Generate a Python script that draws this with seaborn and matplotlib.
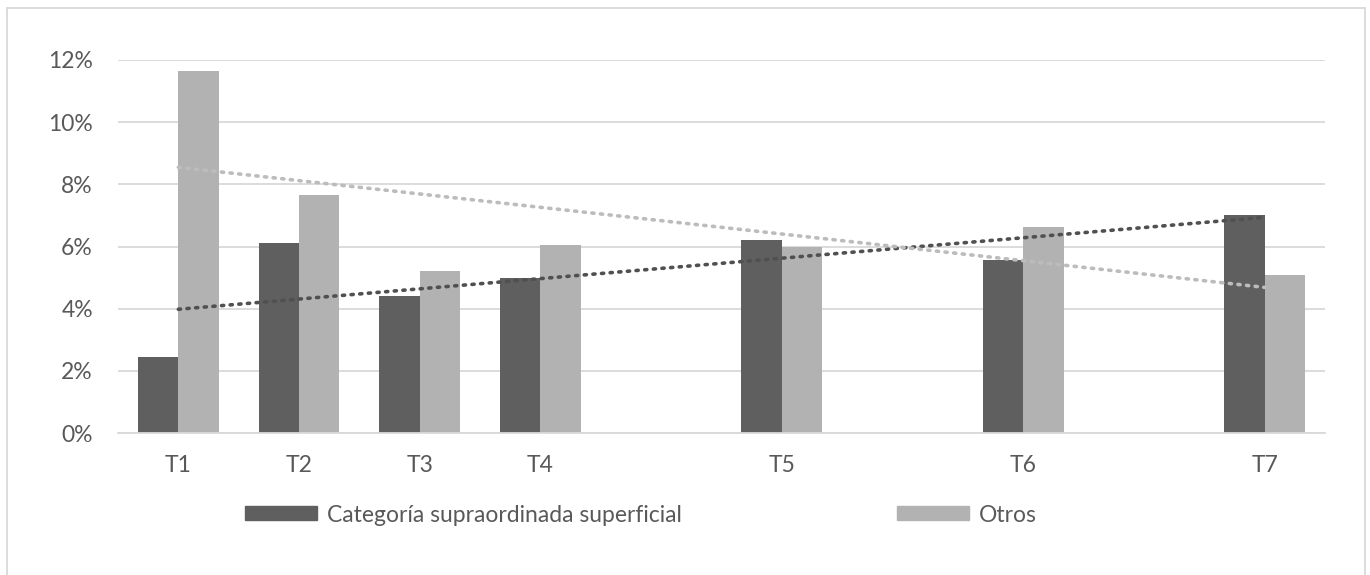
import numpy as np
import pandas as pd
import matplotlib
matplotlib.use("Agg")
import matplotlib.pyplot as plt
import seaborn as sns
from matplotlib.lines import Line2D

# slots on the category axis (blank slots have no bars)
slots = ["T1", "T2", "T3", "T4", "_a", "T5", "_b", "T6", "_c", "T7"]
slot_labels = ["T1", "T2", "T3", "T4", "", "T5", "", "T6", "", "T7"]
tiempos = ["T1", "T2", "T3", "T4", "T5", "T6", "T7"]
series = ["Categoría supraordinada superficial", "Otros"]
cat_sup = [0.0245, 0.061, 0.044, 0.050, 0.0622, 0.0555, 0.0702]
otros = [0.1165, 0.0765, 0.052, 0.0605, 0.060, 0.0662, 0.0508]

colors = ["#5f5f5f", "#b2b2b2"]
trend_colors = ["#505050", "#bcbcbc"]

df = pd.DataFrame({
    "t": tiempos * 2,
    "serie": [series[0]] * len(tiempos) + [series[1]] * len(tiempos),
    "valor": cat_sup + otros,
})

sns.set_style("white")
plt.rcParams["font.family"] = ["Lato", "DejaVu Sans"]
fs = 16.5

fig = plt.figure(figsize=(13.7, 5.75), dpi=100)
ax = fig.add_axes([118 / 1370, 1 - 433 / 575, (1325 - 118) / 1370, (433 - 60) / 575])

sns.barplot(data=df, x="t", y="valor", hue="serie", order=slots,
            hue_order=series, palette=colors, width=0.67, saturation=1,
            errorbar=None, ax=ax, legend=False, linewidth=0, zorder=2)

# linear trendlines (Excel style) over slot positions
xpos = np.array([slots.index(t) for t in tiempos])
for vals, c in zip([cat_sup, otros], trend_colors):
    m, b = np.polyfit(xpos + 1, vals, 1)
    xs = np.array([0, len(slots) - 1])
    ax.plot(xs, m * (xs + 1) + b, color=c, lw=2.6, ls=(0, (0.6, 1.8)),
            dash_capstyle="round", zorder=3)

ax.set_ylim(0, 0.12)
ax.set_xlim(-0.5, len(slots) - 0.5)
yt = np.arange(0, 0.121, 0.02)
ax.set_yticks(yt)
ax.set_yticklabels([f"{int(round(v * 100))}%" for v in yt])
ax.yaxis.grid(True, color="#d9d9d9", lw=1.3, zorder=0)
ax.set_axisbelow(True)
ax.set_xticks(range(len(slots)))
ax.set_xticklabels(slot_labels)
ax.set_xticks(np.arange(-0.5, len(slots)), minor=True)
ax.tick_params(axis="x", which="major", length=0, pad=16, labelsize=fs, labelcolor="#595959")
ax.tick_params(axis="x", which="minor", length=7, width=1.3, color="#d9d9d9")
ax.tick_params(axis="y", length=0, pad=18, labelsize=fs, labelcolor="#595959")
ax.set_xlabel("")
ax.set_ylabel("")
for s in ["left", "right", "top"]:
    ax.spines[s].set_visible(False)
ax.spines["bottom"].set_color("#d9d9d9")
ax.spines["bottom"].set_linewidth(1.3)

handles = [plt.Rectangle((0, 0), 1, 1, color=c) for c in colors]
fig.legend(handles, series, loc="center left", bbox_to_anchor=(245 / 1370, 1 - 515 / 575),
           ncol=2, frameon=False, fontsize=fs, labelcolor="#595959",
           borderpad=0, borderaxespad=0,
           handlelength=3.14, handleheight=0.57, handletextpad=0.42, columnspacing=9.4)

# chart border (left, right, top)
for xy in [([7, 7], [0, 567]), ([1365, 1365], [0, 567]), ([7, 1365], [567, 567])]:
    fig.add_artist(Line2D([x / 1370 for x in xy[0]], [y / 575 for y in xy[1]],
                          color="#d9d9d9", lw=1.3))

fig.savefig("out.png", dpi=100)
